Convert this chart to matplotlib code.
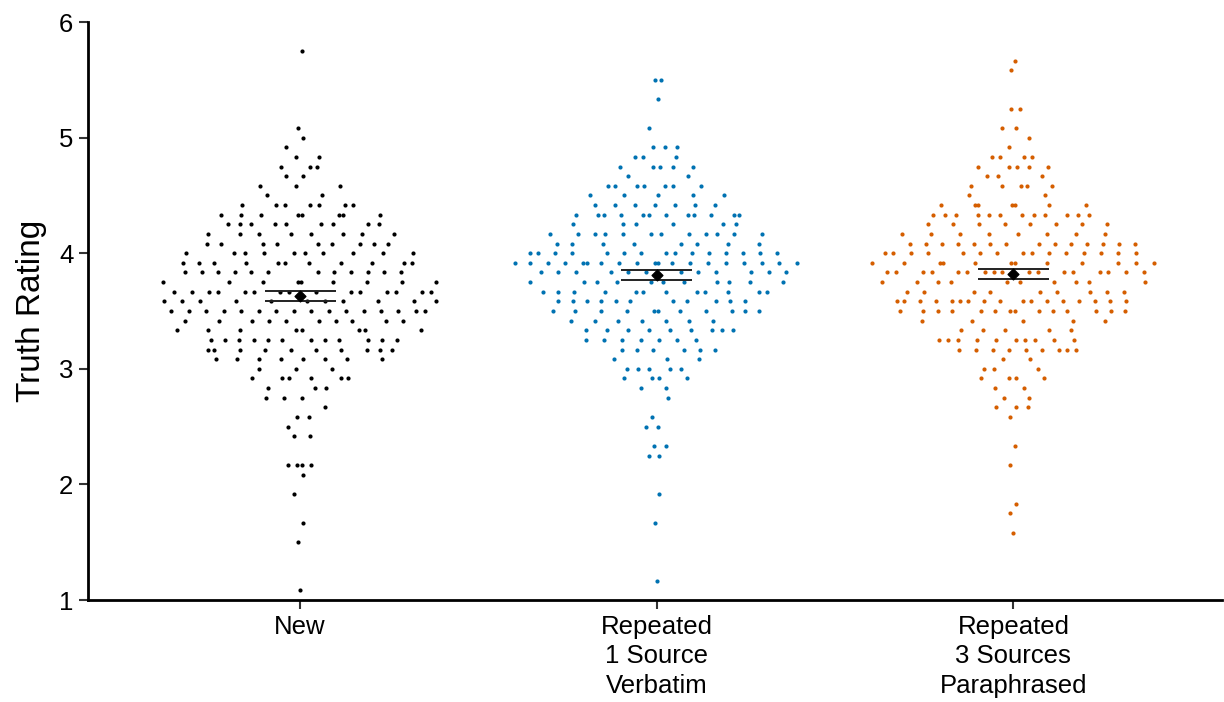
import numpy as np
import matplotlib.pyplot as plt

plt.rcParams['font.family'] = ['Liberation Sans', 'DejaVu Sans']

conditions = ['New', 'Repeated\n1 Source\nVerbatim', 'Repeated\n3 Sources\nParaphrased']
colours = ['#000000', '#0072B2', '#D55E00']

# item ratings sit on a 1/12 grid: level in twelfths and number of items there
new_levels = [69, 61, 60, 59, 58, 57, 56, 55, 54, 53, 52, 51, 50, 49, 48, 47, 46, 45, 44, 43,
              42, 41, 40, 39, 38, 37, 36, 35, 34, 33, 32, 31, 30, 29, 26, 25, 23, 20, 18, 13]
new_counts = [1, 1, 1, 1, 2, 3, 2, 3, 2, 7, 8, 9, 8, 9, 10, 11, 12, 9, 15, 11,
              16, 10, 8, 12, 10, 8, 3, 6, 3, 3, 1, 2, 1, 2, 4, 1, 1, 1, 1, 1]

one_levels = [66, 64, 61, 59, 58, 57, 56, 55, 54, 53, 52, 51, 50, 49, 48, 47, 46, 45, 44, 43,
              42, 41, 40, 39, 38, 37, 36, 35, 34, 33, 31, 30, 28, 27, 23, 20, 14]
one_counts = [2, 1, 1, 3, 3, 5, 2, 7, 5, 7, 12, 6, 12, 8, 15, 19, 12, 11, 12, 11,
              11, 7, 9, 7, 6, 3, 5, 4, 2, 1, 1, 2, 2, 2, 1, 1, 1]

three_levels = [68, 67, 63, 61, 60, 59, 58, 57, 56, 55, 54, 53, 52, 51, 50, 49, 48, 47, 46, 45,
                44, 43, 42, 41, 40, 39, 38, 37, 36, 35, 34, 33, 32, 31, 28, 26, 22, 21, 19]
three_counts = [1, 1, 2, 2, 1, 1, 4, 5, 3, 5, 2, 7, 12, 8, 8, 14, 15, 12, 17, 10,
                9, 17, 14, 5, 5, 10, 9, 2, 3, 4, 2, 2, 3, 1, 1, 1, 1, 1, 1]

groups = [(new_levels, new_counts), (one_levels, one_counts), (three_levels, three_counts)]


def vdc(n):
    # van der Corput sequence, base 2
    out = []
    for i in range(1, n + 1):
        v, denom, k = 0.0, 1.0, i
        while k:
            denom *= 2
            k, r = divmod(k, 2)
            v += r / denom
        out.append(v)
    return np.array(out)


def quasirandom(y, width=0.4):
    n = len(y)
    sd = np.std(y, ddof=1)
    iqr = np.subtract(*np.percentile(y, [75, 25]))
    bw = 0.9 * min(sd, iqr / 1.34) * n ** -0.2
    dens = np.exp(-0.5 * ((y[:, None] - y[None, :]) / bw) ** 2).sum(axis=1)
    dens = dens / dens.max()
    order = np.argsort(y, kind='stable')
    rank = np.empty(n, dtype=int)
    rank[order] = np.arange(n)
    off = vdc(n)[rank]
    return (off - 0.5) * 2 * dens * width


fig = plt.figure(figsize=(12.24, 7.02), dpi=100)
ax = fig.add_axes([88 / 1224, 102 / 702, 1134 / 1224, 578 / 702])

for i, (lv, ct) in enumerate(groups):
    y = np.repeat(np.array(lv) / 12, ct)
    x = i + quasirandom(y)
    ax.scatter(x, y, s=9, color=colours[i], linewidths=0, zorder=2)
    m = y.mean()
    se = y.std(ddof=1) / np.sqrt(len(y))
    ax.hlines([m - se, m + se], i - 0.1, i + 0.1, color='#222222', lw=1.4, zorder=3)
    ax.vlines(i, m - se, m + se, color='#222222', lw=1.4, zorder=3)
    ax.scatter([i], [m], marker='D', s=30, color='black', zorder=4)

ax.set_xlim(-0.595, 2.585)
ax.set_ylim(1, 6)
ax.set_xticks(range(3))
ax.set_xticklabels(conditions, fontsize=18.5, linespacing=1.3)
ax.set_yticks(range(1, 7))
ax.tick_params(axis='both', labelsize=18.5, length=6.5, width=1.5, color='#333333', pad=4)
ax.set_ylabel('Truth Rating', fontsize=24, labelpad=9)
for s in ['top', 'right']:
    ax.spines[s].set_visible(False)
for s in ['left', 'bottom']:
    ax.spines[s].set_linewidth(2)

fig.savefig('out.png', dpi=100)
